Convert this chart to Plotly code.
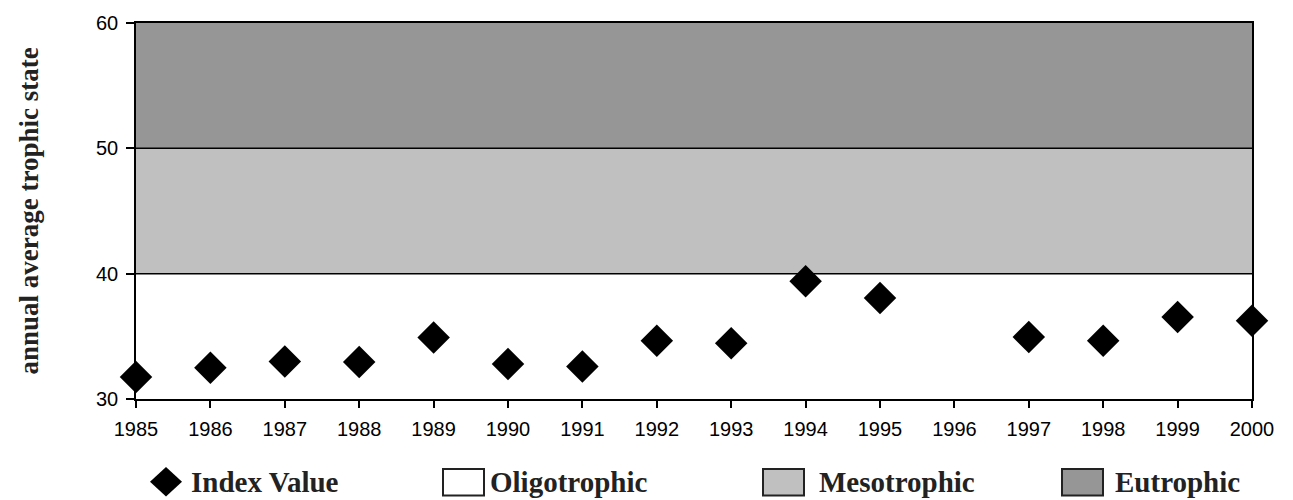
import plotly.graph_objects as go

# ---- data ----
years = [str(y) for y in range(1985, 2001)]
index_values = [31.75, 32.5, 33.0, 32.95, 34.9, 32.8, 32.6, 34.65, 34.45,
                39.4, 38.05, None, 34.95, 34.65, 36.55, 36.25]
band_names = ["Oligotrophic", "Mesotrophic", "Eutrophic"]
band_lows = [30, 40, 50]
band_highs = [40, 50, 60]
band_colors = ["#ffffff", "#c0c0c0", "#969696"]
y_ticks = [30, 40, 50, 60]

W, H = 1293, 500
ML, MR, MT, MB = 136, 41, 17, 101
PW, PH = W - ML - MR, H - MT - MB


def px(xp):
    return (xp - ML) / PW


def py(yp):
    return (H - MB - yp) / PH


fig = go.Figure()

fig.add_trace(go.Scatter(
    x=years, y=index_values, mode="markers", name="Index Value",
    marker=dict(symbol="diamond", size=25, color="black"),
    cliponaxis=False, showlegend=False,
))

shapes = []
for lo, hi, col in zip(band_lows, band_highs, band_colors):
    shapes.append(dict(type="rect", xref="paper", yref="y", x0=0, x1=1,
                       y0=lo, y1=hi, fillcolor=col, line=dict(width=0),
                       layer="below"))
for v in band_lows[1:]:
    shapes.append(dict(type="line", xref="paper", yref="y", x0=0, x1=1,
                       y0=v, y1=v, line=dict(color="black", width=1.5),
                       layer="below"))

# custom legend
serif = "Liberation Serif"
LEG_SIZE = 29
cy = 483
dx, dy = 16, 15
cx = 166
shapes.append(dict(type="path", xref="paper", yref="paper",
                   path=f"M {px(cx-dx)},{py(cy)} L {px(cx)},{py(cy-dy)} L {px(cx+dx)},{py(cy)} L {px(cx)},{py(cy+dy)} Z",
                   fillcolor="black", line=dict(width=0)))
annotations = [dict(text="<b>Index Value</b>", x=px(189), y=py(cy), xref="paper",
                    yref="paper", xanchor="left", yanchor="middle", showarrow=False,
                    font=dict(family=serif, size=LEG_SIZE, color="#222"))]
box_x = [443, 763, 1062]
text_x = [488, 817, 1113]
for name, col, bx, tx in zip(band_names, band_colors, box_x, text_x):
    shapes.append(dict(type="rect", xref="paper", yref="paper",
                       x0=px(bx), x1=px(bx + 41), y0=py(cy - 13), y1=py(cy + 14),
                       fillcolor=col, line=dict(color="#222", width=2)))
    annotations.append(dict(text=f"<b>{name}</b>", x=px(tx), y=py(cy), xref="paper",
                            yref="paper", xanchor="left", yanchor="middle",
                            showarrow=False,
                            font=dict(family=serif, size=LEG_SIZE, color="#222")))

fig.update_layout(
    width=W, height=H,
    margin=dict(l=ML, r=MR, t=MT, b=MB),
    paper_bgcolor="white", plot_bgcolor="white",
    shapes=shapes, annotations=annotations,
    showlegend=False,
    xaxis=dict(type="category", range=[0, 15], showgrid=False, zeroline=False,
               showline=True, linecolor="black", linewidth=1.5, mirror=True,
               ticks="outside", ticklen=7, tickcolor="black", tickwidth=1.5,
               ticklabelstandoff=4,
               tickfont=dict(family="Liberation Sans", size=20, color="black")),
    yaxis=dict(range=[30, 60], tickvals=y_ticks, showgrid=False, zeroline=False,
               showline=True, linecolor="black", linewidth=1.5, mirror=True,
               ticks="outside", ticklen=8, tickcolor="black", tickwidth=1.5,
               ticklabelstandoff=4,
               tickfont=dict(family="Liberation Sans", size=20, color="black"),
               title=dict(text="<b>annual average trophic state</b>", standoff=50,
                          font=dict(family=serif, size=27, color="#222"))),
)

fig.write_html("out.html")
